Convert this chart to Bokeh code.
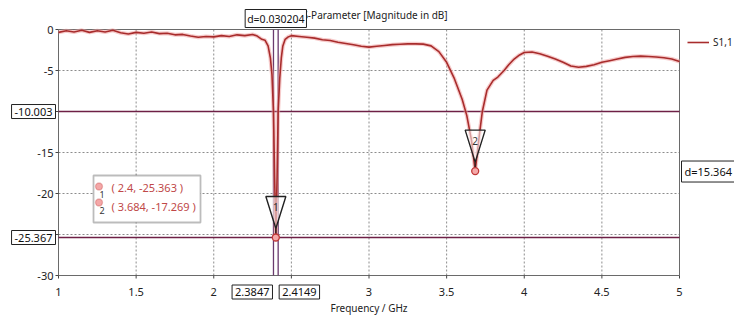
from bokeh.plotting import figure
from bokeh.models import (Range1d, Label, BoxAnnotation, Legend, LegendItem,
                          ColumnDataSource)
from bokeh.core.properties import value
from bokeh.embed import file_html
from bokeh.resources import INLINE

# ---------------- data ----------------
freq_ghz = [1.00, 1.05, 1.10, 1.15, 1.20, 1.25, 1.30, 1.35, 1.40, 1.45, 1.50,
            1.55, 1.60, 1.65, 1.70, 1.75, 1.80, 1.85, 1.90, 1.95, 2.00, 2.05,
            2.10, 2.15, 2.20, 2.25, 2.28, 2.31, 2.33, 2.35, 2.365, 2.375,
            2.3847, 2.392, 2.400, 2.408, 2.4149, 2.425, 2.435, 2.445, 2.46,
            2.48, 2.50, 2.55, 2.60, 2.65, 2.70, 2.75, 2.80, 2.85, 2.90, 2.95,
            3.00, 3.05, 3.10, 3.15, 3.20, 3.25, 3.30, 3.35, 3.40, 3.45, 3.50,
            3.55, 3.60, 3.63, 3.66, 3.684, 3.71, 3.73, 3.76, 3.80, 3.83, 3.87,
            3.90, 3.935, 3.97, 4.00, 4.05, 4.10, 4.15, 4.20, 4.25, 4.30, 4.35,
            4.40, 4.45, 4.50, 4.55, 4.60, 4.65, 4.70, 4.75, 4.80, 4.85, 4.90,
            4.95, 5.00]
s11_db = [-0.35, -0.15, -0.30, -0.10, -0.35, -0.15, -0.30, -0.10, -0.40, -0.55, -0.35,
          -0.45, -0.30, -0.50, -0.45, -0.65, -0.60, -0.80, -0.95, -0.85, -0.90, -0.75,
          -0.85, -0.65, -0.75, -0.60, -0.80, -1.20, -1.30, -2.00, -3.50, -5.50,
          -10.0, -18.0, -25.363, -18.0, -10.0, -6.0, -3.5, -2.0, -1.2,
          -0.90, -0.75, -0.85, -0.95, -1.05, -1.25, -1.35, -1.55, -1.70, -1.85, -2.05,
          -2.15, -2.05, -1.95, -1.85, -1.80, -1.75, -1.75, -1.78, -2.00, -2.70, -4.00,
          -6.00, -8.50, -10.5, -13.5, -17.269, -13.0, -10.0, -7.40, -6.20, -5.80, -5.00,
          -4.30, -3.60, -3.10, -2.80, -2.75, -2.95, -3.25, -3.60, -4.00, -4.45, -4.60,
          -4.50, -4.30, -4.00, -3.80, -3.60, -3.40, -3.30, -3.25, -3.30, -3.35, -3.45,
          -3.60, -3.90]

marker_freq = [2.4, 3.684]
marker_db = [-25.363, -17.269]
marker_names = ["1", "2"]

hline_db = [-10.003, -25.367]
hline_labels = ["-10.003", "-25.367"]
vline_ghz = [2.3847, 2.4149]
vline_labels = ["2.3847", "2.4149"]
dx_label = "d=0.030204"
dy_label = "d=15.364"

x_ticks = [1, 1.5, 2, 2.5, 3, 3.5, 4, 4.5, 5]
x_tick_labels = ["1", "1.5", "2", "", "3", "3.5", "4", "4.5", "5"]
y_ticks = [-30, -25, -20, -15, -10, -5, 0]
y_tick_labels = ["-30", "", "-20", "-15", "", "-5", "0"]

title_text = "S-Parameter [Magnitude in dB]"
x_title = "Frequency / GHz"
series_name = "S1,1"

# ---------------- layout (pixels) ----------------
W, H = 734, 318
FL, FR, FT, FB = 58, 679, 29, 275          # plot-box edges in canvas pixels
XMIN, XMAX = x_ticks[0], x_ticks[-1]
YMIN, YMAX = y_ticks[0], y_ticks[-1]
PX = (FR - FL) / (XMAX - XMIN)
PY = (FB - FT) / (YMAX - YMIN)
x_range = Range1d(XMIN - FL / PX, XMAX + (W - FR) / PX)
y_range = Range1d(YMIN - (H - FB) / PY, YMAX + FT / PY)

FONT = "Noto Sans"
TXT = "#222222"

p = figure(width=W, height=H, output_backend="svg", toolbar_location=None,
           x_range=x_range, y_range=y_range, min_border=0,
           x_axis_location=None, y_axis_location=None)
p.outline_line_color = None
p.grid.visible = False
p.background_fill_color = "white"
p.border_fill_color = "white"

# grid (dotted)
p.segment(x0=x_ticks[1:-1], y0=[YMIN] * (len(x_ticks) - 2),
          x1=x_ticks[1:-1], y1=[YMAX] * (len(x_ticks) - 2),
          line_color="#8c8c8c", line_width=1, line_dash="2 2")
p.segment(x0=[XMIN] * (len(y_ticks) - 2), y0=y_ticks[1:-1],
          x1=[XMAX] * (len(y_ticks) - 2), y1=y_ticks[1:-1],
          line_color="#8c8c8c", line_width=1, line_dash="2 2")

# plot box
p.quad(left=[XMIN], right=[XMAX], bottom=[YMIN], top=[YMAX], fill_color=None,
       line_color="#6a6a6a", line_width=1)

# ticks
p.segment(x0=x_ticks, y0=[YMIN] * len(x_ticks), x1=x_ticks,
          y1=[YMIN - 3 / PY] * len(x_ticks), line_color="#444444")
p.segment(x0=[XMIN] * len(y_ticks), y0=y_ticks, x1=[XMIN - 3 / PX] * len(y_ticks),
          y1=y_ticks, line_color="#444444")
p.text(x=x_ticks, y=[YMIN] * len(x_ticks), text=x_tick_labels, y_offset=16,
       text_align="center", text_baseline="middle", text_font=value(FONT),
       text_font_size="11px", text_color=TXT)
p.text(x=[XMIN] * len(y_ticks), y=y_ticks, text=y_tick_labels, x_offset=-5,
       text_align="right", text_baseline="middle", text_font=value(FONT),
       text_font_size="11px", text_color=TXT)
p.add_layout(Label(x=(XMIN + XMAX) / 2, y=YMIN, y_offset=-32, text=x_title,
                   text_align="center", text_baseline="middle", text_font=FONT,
                   text_font_size="10px", text_color=TXT))

# marker lines
p.segment(x0=[XMIN] * 2, y0=hline_db, x1=[XMAX] * 2, y1=hline_db,
          line_color="#6e2046", line_width=1.6)
p.segment(x0=vline_ghz, y0=[YMIN] * 2, x1=vline_ghz, y1=[YMAX] * 2,
          line_color="#6a3a6e", line_width=1.3)

# curve
src = ColumnDataSource(dict(f=freq_ghz, s=s11_db))
p.line("f", "s", source=src, line_color="#eea0a0", line_width=4, line_alpha=0.55)
main = p.line("f", "s", source=src, line_color="#a82c2c", line_width=1.6)

# markers (triangles)
hw = 10 / PX
tri_xs = [[f - hw, f + hw, f] for f in marker_freq]
tri_ys = [[d + 5.0, d + 5.0, d + 1.1] for d in marker_db]
p.patches(tri_xs, tri_ys, fill_color="white", fill_alpha=0.55,
          line_color="#222222", line_width=1.4)
p.segment(x0=marker_freq, y0=[d + 1.1 for d in marker_db], x1=marker_freq,
          y1=marker_db, line_color="#222222", line_width=1.2)
p.text(x=marker_freq, y=[d + 3.7 for d in marker_db], text=marker_names,
       text_align="center", text_baseline="middle", text_font=value(FONT),
       text_font_size="10px", text_color="#333333")
p.scatter(marker_freq, marker_db, size=7, fill_color="#f4a8a8",
          line_color="#c03838", line_width=1.3)

# legend (right of plot box)
legend = Legend(items=[LegendItem(label=series_name, renderers=[main])],
                location=(FR + 8, H - 52), border_line_color=None,
                background_fill_alpha=0, padding=0, margin=0, spacing=0,
                glyph_width=22, glyph_height=20, label_standoff=4,
                label_text_font=FONT, label_text_font_size="10px",
                label_text_color=TXT)
p.add_layout(legend)

# title
p.add_layout(Label(x=(XMIN + XMAX) / 2, y=YMAX, x_offset=6, y_offset=15,
                   text=title_text, text_align="center", text_baseline="middle",
                   text_font=FONT, text_font_size="10px", text_color=TXT))

box_kw = dict(text_font=FONT, text_font_size="11px", text_color="#111111",
              background_fill_color="white", border_line_color="#222222",
              border_line_width=1, padding=3, text_baseline="middle")

# dx box above the plot box
p.add_layout(Label(x=sum(vline_ghz) / 2, y=YMAX, y_offset=11, text=dx_label,
                   text_align="center",
                   **{**box_kw, "text_font_size": "10.5px", "padding": 2}))
# x value boxes below
p.add_layout(Label(x=vline_ghz[0], y=YMIN, y_offset=-16.5, x_offset=-1,
                   text=vline_labels[0], text_align="right", **box_kw))
p.add_layout(Label(x=vline_ghz[1], y=YMIN, y_offset=-16.5, x_offset=1,
                   text=vline_labels[1], text_align="left", **box_kw))
# y value boxes left
for yv, lab in zip(hline_db, hline_labels):
    p.add_layout(Label(x=XMIN, y=yv, x_offset=-3, text=lab, text_align="right",
                       **box_kw))
# dy box right
p.add_layout(Label(x=XMAX, y=sum(hline_db) / 2, x_offset=2, y_offset=3,
                   text=dy_label, text_align="left", **box_kw))

# marker info box
scr = dict(left_units="screen", right_units="screen", bottom_units="screen",
           top_units="screen")
p.add_layout(BoxAnnotation(left=93, right=200, bottom=H - 222, top=H - 175,
                           fill_color="white", fill_alpha=1,
                           line_color="#222222", line_width=1.8, **scr))
for i, (f, d, n) in enumerate(zip(marker_freq, marker_db, marker_names)):
    cy = H - 186 - 16 * i
    p.add_layout(BoxAnnotation(left=95, right=102, bottom=cy - 3.5, top=cy + 3.5,
                               fill_color="#f4a8a8", fill_alpha=1,
                               line_color="#c03838", line_width=1.3,
                               border_radius=4, **scr))
    p.add_layout(Label(x=101.5, y=cy - 8, x_units="screen", y_units="screen",
                       text=n, text_align="center", text_baseline="middle",
                       text_font=FONT, text_font_size="9px", text_color="#333333"))
    p.add_layout(Label(x=111, y=cy - 1 - 3 * i, x_units="screen", y_units="screen",
                       text=f"( {f}, {d} )", text_align="left",
                       text_baseline="middle", text_font=FONT,
                       text_font_size="11px", text_color="#c04848"))

open("out.html", "w").write(file_html(p, INLINE))
